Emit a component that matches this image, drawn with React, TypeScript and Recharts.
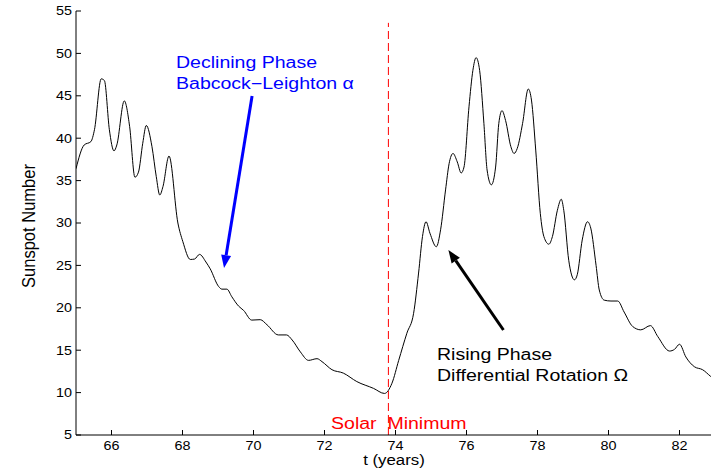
import React from "react";
import { LineChart, Line, XAxis, YAxis, ReferenceLine } from "recharts";

// time in years and smoothed sunspot number
const years = [
  65.0, 65.23, 65.42, 65.52, 65.71, 65.8, 65.94, 66.07, 66.15, 66.36, 66.51, 66.66, 66.76, 66.88, 66.98,
  67.14, 67.26, 67.36, 67.45, 67.62, 67.87, 68.01, 68.22, 68.34, 68.48, 68.66, 68.78, 69.02, 69.11, 69.25,
  69.39, 69.58, 69.72, 69.95, 70.19, 70.38, 70.7, 70.93, 71.09, 71.32, 71.55, 71.79, 71.93, 72.21, 72.53,
  72.91, 73.38, 73.69, 73.9, 74.09, 74.32, 74.51, 74.65, 74.76, 74.86, 74.97, 75.15, 75.27, 75.41, 75.51,
  75.62, 75.74, 75.85, 75.93, 76.07, 76.18, 76.27, 76.37, 76.49, 76.58, 76.7, 76.82, 76.91, 77.0, 77.1,
  77.25, 77.34, 77.43, 77.58, 77.74, 77.83, 77.95, 78.08, 78.18, 78.32, 78.42, 78.56, 78.67, 78.74, 78.88,
  79.04, 79.12, 79.26, 79.41, 79.5, 79.65, 79.74, 79.88, 80.07, 80.26, 80.44, 80.68, 80.91, 81.18, 81.39,
  81.72, 81.86, 82.0, 82.18, 82.42, 82.65, 82.88, 83.0,
];
const sunspots = [
  36.4, 39.2, 39.6, 41.0, 47.0, 46.8, 41.0, 38.5, 39.2, 44.4, 41.4, 35.4, 36.0, 39.4, 41.5,
  39.0, 35.5, 33.3, 34.3, 37.9, 30.0, 27.8, 25.7, 25.75, 26.3, 25.4, 24.6, 22.5, 22.2, 22.2,
  21.3, 20.2, 19.7, 18.55, 18.6, 18.0, 16.8, 16.8, 16.2, 14.8, 13.8, 14.0, 13.65, 12.7, 12.3,
  11.3, 10.5, 9.9, 11.1, 13.8, 17.0, 19.35, 24.1, 28.4, 30.15, 28.8, 27.2, 29.2, 33.9, 37.0,
  38.2, 37.2, 35.9, 36.6, 43.7, 48.0, 49.5, 48.0, 41.75, 36.25, 34.5, 36.6, 41.75, 43.25, 42.1,
  39.0, 38.2, 38.8, 41.75, 45.8, 44.5, 38.6, 31.1, 28.4, 27.5, 28.4, 31.5, 32.8, 31.5, 25.6,
  23.3, 23.9, 28.0, 30.15, 29.4, 25.0, 22.1, 20.9, 20.8, 20.8, 19.5, 17.8, 17.4, 17.9, 16.6,
  14.9, 15.1, 15.7, 14.2, 13.05, 12.7, 11.9, 11.5,
];
const xTicks = [66, 68, 70, 72, 74, 76, 78, 80, 82];
const yTicks = [5, 10, 15, 20, 25, 30, 35, 40, 45, 50, 55];

// solar minimum and the two annotation arrows (tail -> head)
const minimumYear = 73.8;
const declineArrow = [{ x: 69.96, y: 44.98 }, { x: 69.17, y: 24.69 }];
const riseArrow = [{ x: 77.04, y: 17.38 }, { x: 75.49, y: 26.82 }];

const data = years.map((t, i) => ({ t, ssn: sunspots[i] }));

const FONT = '"Liberation Sans", Arial, Helvetica, sans-serif';
const STRETCH = 1.2;

const LeftTick = (props: any) => {
  const { x, y, payload } = props;
  return (
    <g>
      <line x1={x + 4} x2={x + 9} y1={y} y2={y} stroke="#000" />
      <text
        transform={`translate(${x},${y + 4.3}) scale(${STRETCH},1)`}
        textAnchor="end"
        fontSize={12}
        fontFamily={FONT}
        fill="#000"
      >
        {payload.value}
      </text>
    </g>
  );
};

const BottomTick = (props: any) => {
  const { x, y, payload } = props;
  return (
    <g>
      <line x1={x} x2={x} y1={y - 5} y2={y} stroke="#000" />
      <text
        transform={`translate(${x},${y + 15}) scale(${STRETCH},1)`}
        textAnchor="middle"
        fontSize={12}
        fontFamily={FONT}
        fill="#000"
      >
        {payload.value}
      </text>
    </g>
  );
};

const TopTick = (props: any) => {
  const { x, y } = props;
  return <line x1={x} x2={x} y1={y} y2={y + 5} stroke="#000" />;
};

const RightTick = (props: any) => {
  const { x, y } = props;
  return <line x1={x - 5} x2={x} y1={y} y2={y} stroke="#000" />;
};

const arrowShape = (color: string) => (p: any) => {
  const { x1, y1, x2, y2 } = p;
  const dx = x2 - x1;
  const dy = y2 - y1;
  const len = Math.sqrt(dx * dx + dy * dy);
  const ux = dx / len;
  const uy = dy / len;
  const head = 13;
  const half = 5;
  const bx = x2 - ux * head;
  const by = y2 - uy * head;
  const pts = `${x2},${y2} ${bx - uy * half},${by + ux * half} ${bx + uy * half},${by - ux * half}`;
  return (
    <g>
      <line x1={x1} y1={y1} x2={bx} y2={by} stroke={color} strokeWidth={3} />
      <polygon points={pts} fill={color} />
    </g>
  );
};

const textStyle: React.CSSProperties = {
  position: "absolute",
  fontFamily: FONT,
  fontSize: 16,
  lineHeight: "21px",
  whiteSpace: "pre",
  transform: `scaleX(1.22)`,
  transformOrigin: "left top",
};

export default function App() {
  return (
    <div
      style={{
        position: "absolute",
        left: 0,
        top: 0,
        width: 711,
        height: 469,
        overflow: "hidden",
        background: "#fff",
      }}
    >
      <LineChart width={720} height={469} data={data} margin={{ top: 11, right: 5, bottom: 0, left: 0 }}>
        <XAxis
          dataKey="t"
          type="number"
          domain={[65, 83]}
          ticks={xTicks}
          interval={0}
          height={34}
          tickSize={0}
          tickMargin={0}
          tick={<BottomTick />}
          axisLine={{ stroke: "#000" }}
          allowDataOverflow
        />
        <XAxis
          xAxisId="top"
          orientation="top"
          type="number"
          domain={[65, 83]}
          ticks={xTicks}
          interval={0}
          height={0}
          tickSize={0}
          tickMargin={0}
          tick={<TopTick />}
          axisLine={{ stroke: "#000" }}
          allowDataOverflow
        />
        <YAxis
          type="number"
          domain={[5, 55]}
          ticks={yTicks}
          interval={0}
          width={76}
          tickSize={0}
          tickMargin={4}
          tick={<LeftTick />}
          axisLine={{ stroke: "#000" }}
          allowDataOverflow
        />
        <YAxis
          yAxisId="right"
          orientation="right"
          type="number"
          domain={[5, 55]}
          ticks={yTicks}
          interval={0}
          width={0}
          tickSize={0}
          tickMargin={0}
          tick={<RightTick />}
          axisLine={{ stroke: "#000" }}
          allowDataOverflow
        />
        <ReferenceLine
          segment={[{ x: minimumYear, y: 5 }, { x: minimumYear, y: 53.6 }]}
          stroke="#ff0000"
          strokeDasharray="8 4"
          strokeWidth={1}
        />
        <Line
          type="monotone"
          dataKey="ssn"
          stroke="#000"
          strokeWidth={1}
          dot={false}
          isAnimationActive={false}
        />
        <ReferenceLine segment={declineArrow} stroke="#0000ff" shape={arrowShape("#0000ff")} />
        <ReferenceLine segment={riseArrow} stroke="#000" shape={arrowShape("#000")} />
      </LineChart>

      <div style={{ ...textStyle, left: 176, top: 52, color: "#0000ff" }}>
        {"Declining Phase\nBabcock\u2212Leighton \u03b1"}
      </div>
      <div style={{ ...textStyle, left: 437, top: 344, color: "#000" }}>
        {"Rising Phase\nDifferential Rotation \u03a9"}
      </div>
      <div style={{ ...textStyle, left: 331, top: 413, color: "#ff0000" }}>{"Solar  Minimum"}</div>
      <div
        style={{
          position: "absolute",
          left: 394,
          top: 451,
          fontFamily: FONT,
          fontSize: 14,
          lineHeight: "18px",
          whiteSpace: "pre",
          transform: `translateX(-50%) scaleX(${STRETCH})`,
          color: "#000",
        }}
      >
        t (years)
      </div>
      <div
        style={{
          position: "absolute",
          left: 28.5,
          top: 225.5,
          fontFamily: FONT,
          fontSize: 16.5,
          lineHeight: "19px",
          whiteSpace: "pre",
          transform: `translate(-50%, -50%) scaleX(1.15) rotate(-90deg)`,
          color: "#000",
        }}
      >
        Sunspot Number
      </div>
    </div>
  );
}
